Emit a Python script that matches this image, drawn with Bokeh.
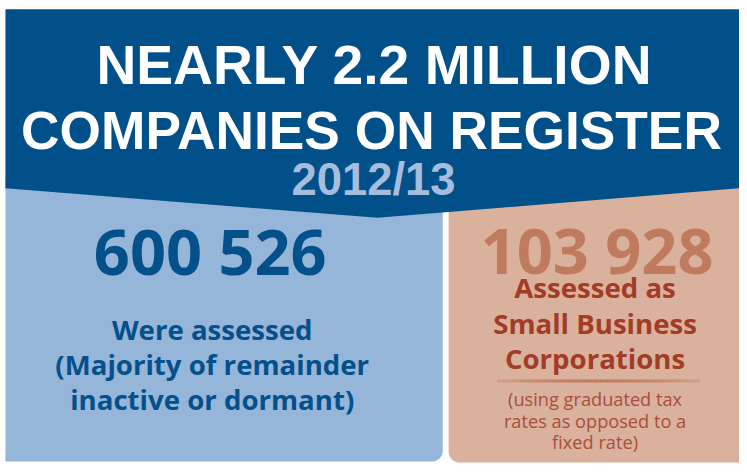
import numpy as np
from bokeh.plotting import figure
from bokeh.models import Range1d
from bokeh.core.properties import value
from bokeh.embed import file_html
from bokeh.resources import INLINE

# ---- data ----
title_lines = ["NEARLY 2.2 MILLION", "COMPANIES ON REGISTER"]
year_label = "2012/13"
assessed_value = "600 526"
assessed_lines = ["Were assessed", "(Majority of remainder", "inactive or dormant)"]
sbc_value = "103 928"
sbc_lines = ["Assessed as", "Small Business", "Corporations"]
sbc_note_lines = ["(using graduated tax", "rates as opposed to a", "fixed rate)"]

# ---- colours ----
BANNER = "#02508a"
LEFT_BG = "#95b5d9"
RIGHT_BG = "#d9b19d"
YEAR_C = "#a6bede"
BLUE_TXT = "#04508a"
NUM_RED = "#c07a5d"
RED_TXT = "#a23c26"
NOTE_TXT = "#aa4f39"

W, H = 747, 473
FW, FH = 739, 465
FS = (FW / W + FH / H) / 2  # font scale

p = figure(width=FW, height=FH, x_range=Range1d(0, W), y_range=Range1d(H, 0),
           output_backend="svg", toolbar_location=None, x_axis_type=None, y_axis_type=None,
           min_border=0, background_fill_color="white", border_fill_color="white")
p.outline_line_color = None
p.grid.visible = False


def rounded_poly(x0, x1, y0, y1, r, corner):
    t = np.linspace(0, np.pi / 2, 12)
    if corner == "br":
        cx, cy = x1 - r, y1 - r
        xs = [x0, x1] + list(cx + r * np.cos(t)) + [x0]
        ys = [y0, y0] + list(cy + r * np.sin(t)) + [y1]
    else:
        cx, cy = x0 + r, y1 - r
        arc = sorted(zip(cx - r * np.cos(t), cy + r * np.sin(t)), key=lambda q: -q[0])
        xs = [x0, x1, x1] + [a for a, b in arc]
        ys = [y0, y0, y1] + [b for a, b in arc]
    return xs, ys


lx, ly = rounded_poly(5, 447, 180, 469, 11, "br")
p.patch(lx, ly, fill_color=LEFT_BG, line_color=None)
rx, ry = rounded_poly(453, 760, 180, 470, 11, "bl")
p.patch(rx, ry, fill_color=RIGHT_BG, line_color=None)

# banner with chevron bottom
p.patch([5, 760, 760, 381, 5], [9, 9, 190, 221, 191], fill_color=BANNER, line_color=None)

TITLE_FONT = value("Liberation Sans")
BODY_FONT = value("Open Sans")
K = 0.36  # baseline correction (fraction of font size)


def txt(xs, ys, texts, size, color, font, bold=True):
    ys2 = [y - K * size for y in ys]
    p.text(x=xs, y=ys2, text=texts, text_font=font,
           text_font_style="bold" if bold else "normal",
           text_font_size=f"{size * FS:.1f}px", text_color=color,
           text_align="center", text_baseline="alphabetic")


txt([378], [86], [title_lines[0]], 56, "white", TITLE_FONT)
txt([375], [152], [title_lines[1]], 54, "white", TITLE_FONT)
txt([377], [199], [year_label], 46, YEAR_C, TITLE_FONT)

# left panel
txt([212], [277], [assessed_value], 64, BLUE_TXT, BODY_FONT)
txt([214, 214, 214], [344, 380, 415], assessed_lines, 28, BLUE_TXT, BODY_FONT)

# right panel
txt([603], [276], [sbc_value], 64, NUM_RED, BODY_FONT)
txt([601, 601, 601], [302, 338, 374], sbc_lines, 28, RED_TXT, BODY_FONT)

# gradient separator
n = 40
sx = np.linspace(502, 707, n + 1)
alph = 0.35 + 0.65 * (1 - np.abs(np.linspace(-1, 1, n)) ** 1.5)
p.segment(x0=sx[:-1], y0=[387] * n, x1=sx[1:], y1=[387] * n, line_color=NUM_RED,
          line_width=3, line_alpha=alph)

txt([601, 601, 601], [412, 434, 456], sbc_note_lines, 18.5, NOTE_TXT, BODY_FONT, bold=False)

open("out.html", "w").write(file_html(p, INLINE))
